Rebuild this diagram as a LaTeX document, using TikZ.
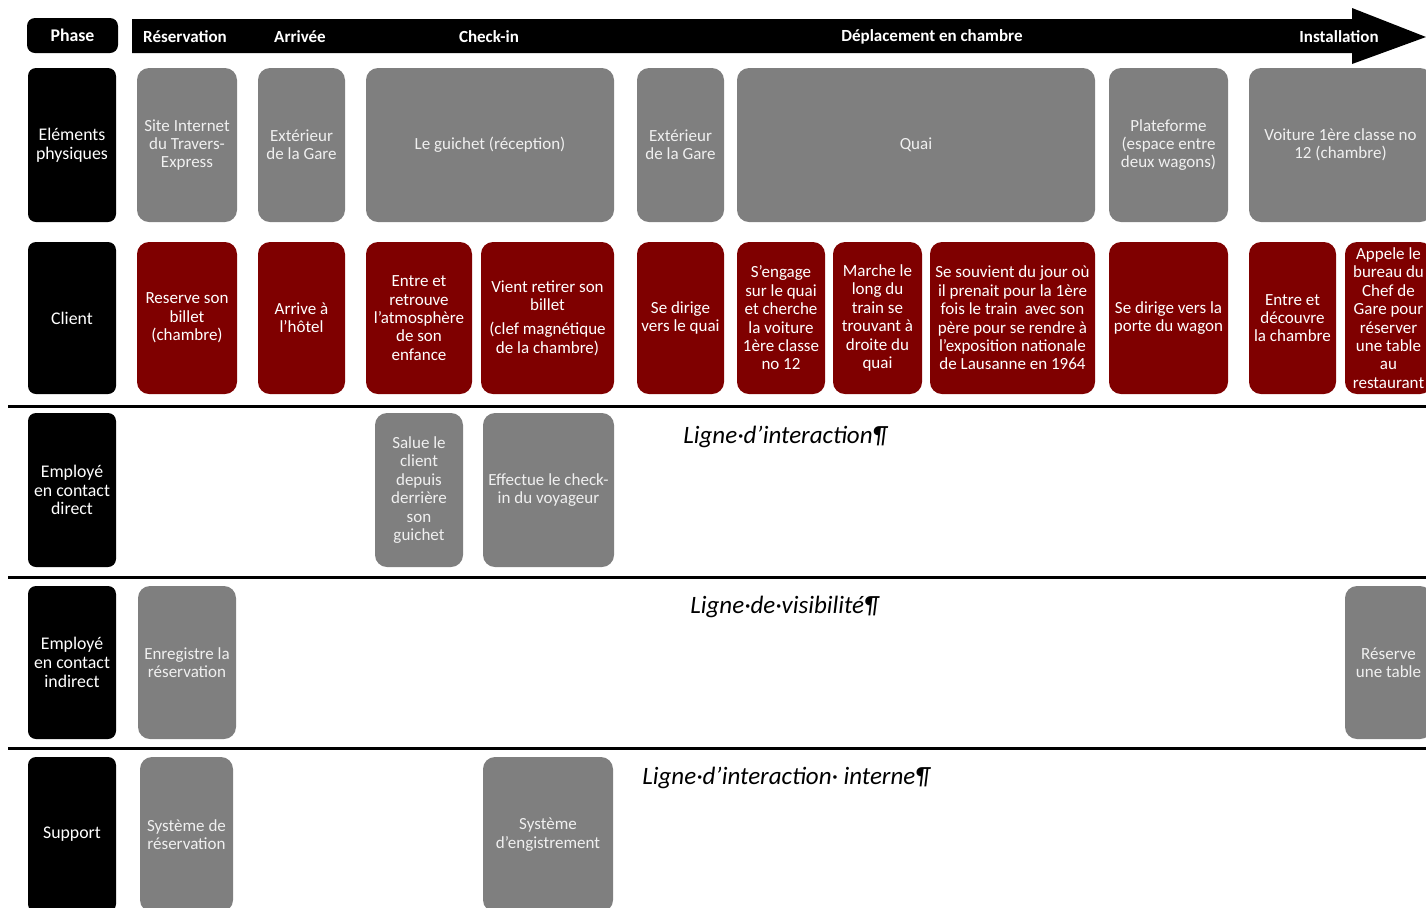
\documentclass[tikz,border=0pt]{standalone}
\usepackage{fontspec}
\setmainfont{Carlito}
\definecolor{boxgray}{HTML}{7F7F7F}
\definecolor{boxred}{HTML}{7F0000}
\definecolor{boxtext}{HTML}{F0F0F0}
\newcommand\fs{\fontsize{8.5}{9.2}\selectfont}
\newcommand\bx[7]{\node[#6, minimum width={(#4-#2)*0.5pt}, minimum height={(#5-#3)*0.5pt}] (#1) at ({(#2+#4)/2},{(#3+#5)/2}) {#7};}
\tikzset{
  base/.style={inner sep=0pt, align=center, font=\fs},
  lab/.style={base, fill=black, rounded corners=4pt, text=white, font=\fontsize{8.9}{9.4}\selectfont},
  gbox/.style={base, fill=boxgray, rounded corners=6pt, text=boxtext},
  rbox/.style={base, fill=boxred, rounded corners=6pt, text=white},
  hdr/.style={inner sep=0pt, text=white, font=\fontsize{8.5}{9.4}\selectfont\bfseries},
  ital/.style={inner sep=0pt, anchor=west, font=\fontsize{12.5}{14}\selectfont\itshape},
  sep/.style={line width=1.5pt, black}
}
\begin{document}
\begin{tikzpicture}[x=0.5pt, y=-0.5pt]
\useasboundingbox (0,0) rectangle (1426,907);
\clip (0,0) rectangle (1426,907);
% header
\bx{phase}{27}{18}{118}{53}{lab}{\bfseries Phase}
\fill[black] (132,19) -- (1352,19) -- (1352,8) -- (1426,37) -- (1352,64) -- (1352,53) -- (132,53) -- cycle;
\node[hdr] (ph1) at (185,37) {Réservation};
\node[hdr] (ph2) at (300,37) {Arrivée};
\node[hdr] (ph3) at (489,37) {Check-in};
\node[hdr] (ph4) at (932,37) {Déplacement en chambre};
\node[hdr] (ph5) at (1339,37) {Installation};
% row labels
\bx{l1}{28}{68}{116}{222}{lab}{Eléments\\physiques}
\bx{l2}{28}{242}{116}{394}{lab}{Client}
\bx{l3}{28}{413}{116}{567}{lab}{Employé\\en contact\\direct}
\bx{l4}{28}{586}{116}{739}{lab}{Employé\\en contact\\indirect}
\bx{l5}{28}{757}{116}{912}{lab}{Support}
% row 1
\bx{e1}{137}{68}{237}{222}{gbox}{Site Internet\\du Travers-\\Express}
\bx{e2}{258}{68}{345}{222}{gbox}{Extérieur\\de la Gare}
\bx{e3}{366}{68}{614}{222}{gbox}{Le guichet (réception)}
\bx{e4}{637}{68}{724}{222}{gbox}{Extérieur\\de la Gare}
\bx{e5}{737}{68}{1095}{222}{gbox}{Quai}
\bx{e6}{1109}{68}{1228}{222}{gbox}{Plateforme\\(espace entre\\deux wagons)}
\bx{e7}{1249}{68}{1432}{222}{gbox}{Voiture 1ère classe no\\12 (chambre)}
% row 2
\bx{c1}{137}{242}{237}{394}{rbox}{Reserve son\\billet\\(chambre)}
\bx{c2}{258}{242}{345}{394}{rbox}{Arrive à\\l’hôtel}
\bx{c3}{366}{242}{472}{394}{rbox}{Entre et\\retrouve\\l’atmosphère\\de son\\enfance}
\bx{c4}{481}{242}{614}{394}{rbox}{Vient retirer son\\billet\\[3pt](clef magnétique\\de la chambre)}
\bx{c5}{637}{242}{724}{394}{rbox}{Se dirige\\vers le quai}
\bx{c6}{737}{242}{825}{394}{rbox}{S’engage\\sur le quai\\et cherche\\la voiture\\1ère classe\\no 12}
\bx{c7}{833}{242}{922}{394}{rbox}{Marche le\\long du\\train se\\trouvant à\\droite du\\quai}
\bx{c8}{930}{242}{1095}{394}{rbox}{Se souvient du jour où\\il prenait pour la 1ère\\fois le train\ \ avec son\\père pour se rendre à\\l’exposition nationale\\de Lausanne en 1964}
\bx{c9}{1109}{242}{1228}{394}{rbox}{Se dirige vers la\\porte du wagon}
\bx{c10}{1249}{242}{1336}{394}{rbox}{Entre et\\découvre\\la chambre}
\bx{c11}{1345}{242}{1432}{394}{rbox}{Appele le\\bureau du\\Chef de\\Gare pour\\réserver\\une table\\au\\restaurant}
% separators
\coordinate (s1a) at (8,406); \coordinate (s1b) at (1426,406);
\coordinate (s2a) at (8,577); \coordinate (s2b) at (1426,577);
\coordinate (s3a) at (8,748); \coordinate (s3b) at (1426,748);
\draw[sep] (s1a) -- (s1b);
\draw[sep] (s2a) -- (s2b);
\draw[sep] (s3a) -- (s3b);
% row 3
\bx{d1}{375}{413}{463}{567}{gbox}{Salue le\\client\\depuis\\derrière\\son\\guichet}
\bx{d2}{483}{413}{614}{567}{gbox}{Effectue le check-\\in du voyageur}
\node[ital] (t1) at (683,437) {Ligne·d’interaction¶};
% row 4
\bx{i1}{138}{586}{236}{739}{gbox}{Enregistre la\\réservation}
\bx{i2}{1345}{586}{1432}{739}{gbox}{Réserve\\une table}
\node[ital] (t2) at (690,607) {Ligne·de·visibilité¶};
% row 5
\bx{s1}{140}{757}{233}{912}{gbox}{Système de\\réservation}
\bx{s2}{483}{757}{613}{912}{gbox}{Système\\d’engistrement}
\node[ital] (t3) at (642,778) {Ligne·d’interaction· interne¶};
\end{tikzpicture}
\end{document}
